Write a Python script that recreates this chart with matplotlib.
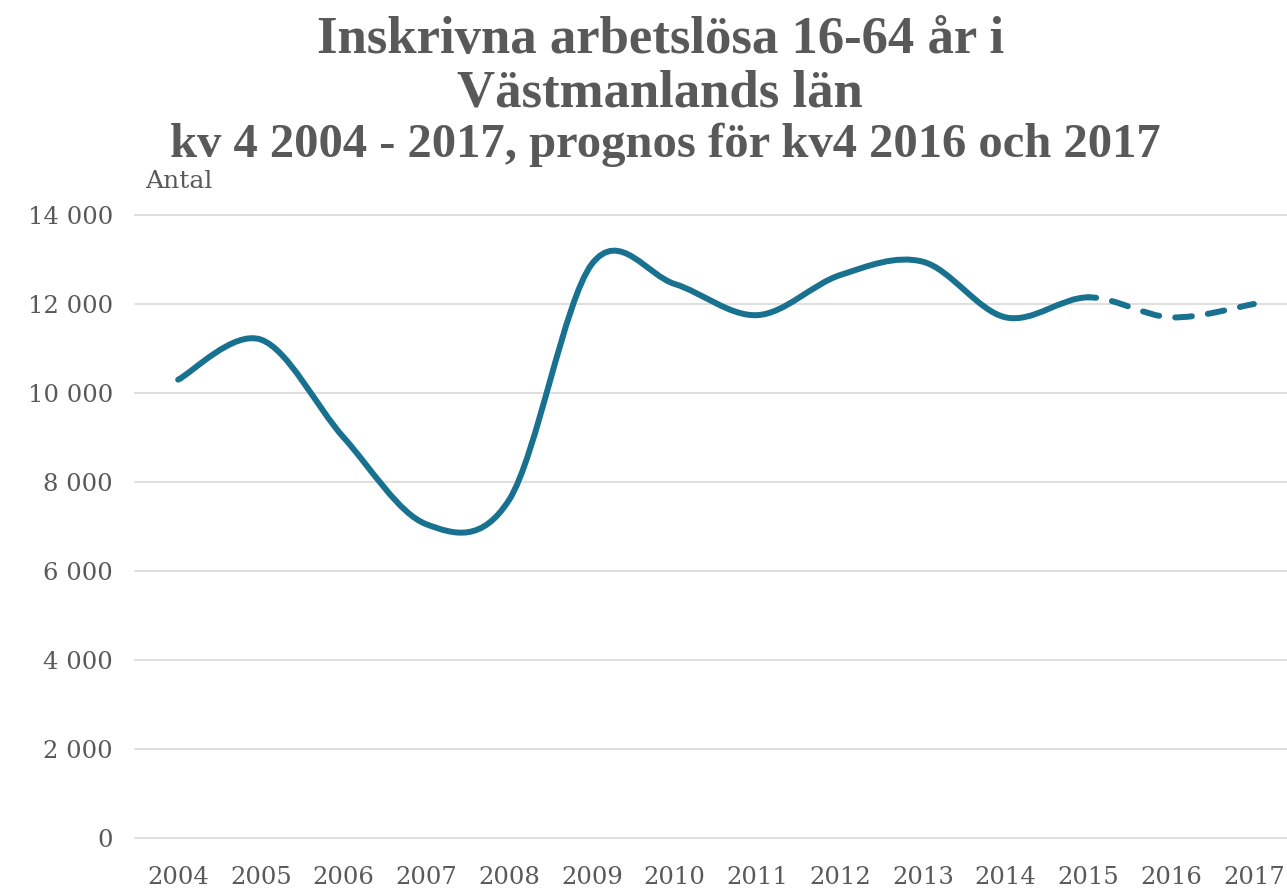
import matplotlib.pyplot as plt
from matplotlib.path import Path
from matplotlib.patches import PathPatch
from matplotlib.ticker import FuncFormatter

# data (kv 4 each year, last two are forecasts)
years = ['2004', '2005', '2006', '2007', '2008', '2009', '2010',
         '2011', '2012', '2013', '2014', '2015', '2016', '2017']
antal = [10300, 11200, 9000, 7050, 7600, 12900, 12450,
         11750, 12650, 12950, 11700, 12150, 11700, 12000]
prognos_from = 11  # index of 2015, dashed from here on

line_color = '#17718f'
text_color = '#595959'
grid_color = '#d9d9d9'


# excel-like smoothed line: bezier segments through the points
def smooth_path(xs, ys, i0, i1):
    verts = [(xs[i0], ys[i0])]
    codes = [Path.MOVETO]
    n = len(xs)
    for i in range(i0, i1):
        p0 = max(i - 1, 0); p3 = min(i + 2, n - 1)
        c1 = (xs[i] + (xs[i + 1] - xs[p0]) / 6, ys[i] + (ys[i + 1] - ys[p0]) / 6)
        c2 = (xs[i + 1] - (xs[p3] - xs[i]) / 6, ys[i + 1] - (ys[p3] - ys[i]) / 6)
        verts += [c1, c2, (xs[i + 1], ys[i + 1])]
        codes += [Path.CURVE4] * 3
    return Path(verts, codes)


fig = plt.figure(figsize=(12.87, 8.91), dpi=100)
ax = fig.add_axes([0.105, 0.0595, 0.895, 0.6992])

x = list(range(len(years)))
solid = PathPatch(smooth_path(x, antal, 0, prognos_from), fill=False,
                  edgecolor=line_color, lw=4.3, capstyle='round', zorder=3)
dashed = PathPatch(smooth_path(x, antal, prognos_from, len(x) - 1), fill=False,
                   edgecolor=line_color, lw=4.3, capstyle='round',
                   linestyle=(1.5, (2.8, 2.7)), zorder=3)
ax.add_patch(solid)
ax.add_patch(dashed)

ax.set_xlim(-0.52, 13.4)
ax.set_ylim(0, 14000)
ax.set_yticks(range(0, 14001, 2000))
ax.yaxis.set_major_formatter(FuncFormatter(lambda v, p: f'{int(v):,}'.replace(',', ' ')))
ax.set_xticks(x)
ax.set_xticklabels(years)
ax.grid(axis='y', color=grid_color, lw=1.2, clip_on=False)
ax.set_axisbelow(True)
for s in ax.spines.values():
    s.set_visible(False)
ax.tick_params(length=0, labelsize=17.5, labelcolor=text_color)
ax.tick_params(axis='x', pad=20)
ax.tick_params(axis='y', pad=16)
for lab in ax.get_xticklabels() + ax.get_yticklabels():
    lab.set_family('DejaVu Serif')

fig.text(0.113, 0.789, 'Antal', fontsize=18, color=text_color, family='DejaVu Serif')
fig.text(0.513, 0.955, 'Inskrivna arbetslösa 16-64 år i', ha='center', va='center',
         fontsize=38, fontweight='bold', color=text_color, family='Liberation Serif')
fig.text(0.513, 0.895, 'Västmanlands län', ha='center', va='center',
         fontsize=38, fontweight='bold', color=text_color, family='Liberation Serif')
fig.text(0.517, 0.838, 'kv 4 2004 - 2017, prognos för kv4 2016 och 2017', ha='center', va='center',
         fontsize=35, fontweight='bold', color=text_color, family='Liberation Serif')

fig.savefig('out.png', dpi=100)
